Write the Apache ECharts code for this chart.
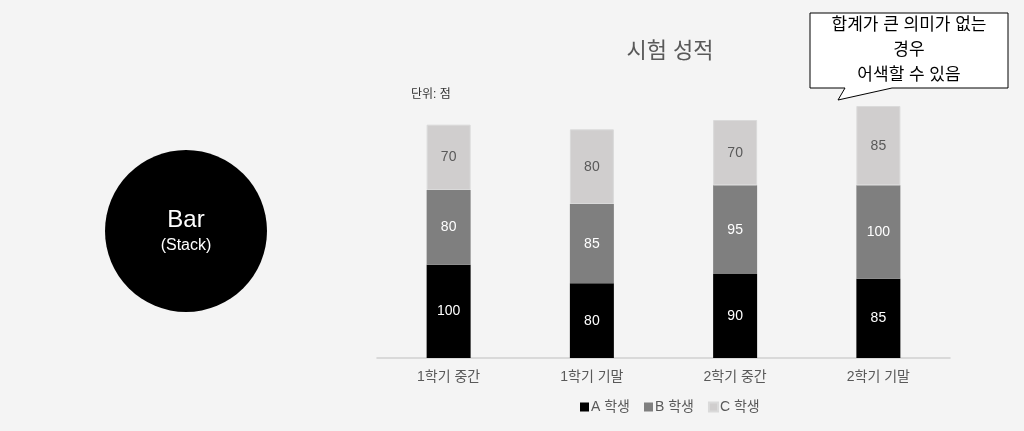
<!DOCTYPE html>
<html><head><meta charset="utf-8">
<script src="https://cdn.jsdelivr.net/npm/echarts@6/dist/echarts.min.js"></script>
<style>html,body{margin:0;padding:0;background:#f4f4f4;}#c{width:1024px;height:431px;}</style>
</head><body><div id="c"></div>
<script>
const categories = ['1학기 중간', '1학기 기말', '2학기 중간', '2학기 기말'];
const seriesNames = ['A 학생', 'B 학생', 'C 학생'];
const scoresA = [100, 80, 90, 85];
const scoresB = [80, 85, 95, 100];
const scoresC = [70, 80, 70, 85];

const font = '"Liberation Sans", "Noto Sans CJK KR", sans-serif';
const chart = echarts.init(document.getElementById('c'));
function mk(name, data, color, labelColor, border) {
  return {
    name, type: 'bar', stack: 'total', data, barWidth: 44,
    itemStyle: { color, borderColor: border || color, borderWidth: border ? 1 : 0 },
    label: { show: true, position: 'inside', color: labelColor, fontSize: 14, fontFamily: font },
    emphasis: { disabled: true }
  };
}
chart.setOption({
  backgroundColor: '#f4f4f4',
  animation: false,
  title: { text: '시험 성적', left: 665, top: 36, textAlign: 'center',
    textStyle: { color: '#595959', fontSize: 22, fontWeight: 'normal', fontFamily: font } },
  legend: { bottom: 17, left: 580, itemWidth: 9, itemHeight: 9, itemGap: 14,
    icon: 'rect', textStyle: { color: '#595959', fontSize: 14, fontFamily: font, padding: [0, 0, 0, -3] },
    data: seriesNames, selectedMode: false, padding: 0 },
  grid: { left: 377, right: 74, top: 78, bottom: 73 },
  xAxis: { type: 'category', data: categories,
    axisLine: { lineStyle: { color: '#d0d0d0', width: 1.5 } }, axisTick: { show: false },
    axisLabel: { color: '#595959', fontSize: 14, fontFamily: font, margin: 12 } },
  yAxis: { type: 'value', min: 0, max: 300, show: false, splitLine: { show: false } },
  series: [
    mk(seriesNames[0], scoresA, '#000000', '#ffffff'),
    mk(seriesNames[1], scoresB, '#7f7f7f', '#ffffff'),
    mk(seriesNames[2], scoresC, '#d0cece', '#595959', '#dadada')
  ],
  graphic: [
    { type: 'text', left: 411, top: 89, style: { text: '단위: 점', fill: '#333', font: '12px ' + font } },
    { type: 'circle', shape: { cx: 186, cy: 231, r: 81 }, style: { fill: '#000' } },
    { type: 'text', x: 186, y: 220, style: { text: 'Bar', fill: '#fff', font: '24px ' + font, textAlign: 'center', textVerticalAlign: 'middle' } },
    { type: 'text', x: 186, y: 246, style: { text: '(Stack)', fill: '#fff', font: '16px ' + font, textAlign: 'center', textVerticalAlign: 'middle' } },
    { type: 'polygon', shape: { points: [[810,13],[1008,13],[1008,88],[892,88],[838,100],[845,88],[810,88]] },
      style: { fill: '#fff', stroke: '#000', lineWidth: 1 } },
    { type: 'text', x: 909, y: 25, style: { text: '합계가 큰 의미가 없는', fill: '#000', font: '17px ' + font, textAlign: 'center', textVerticalAlign: 'middle' } },
    { type: 'text', x: 909, y: 50, style: { text: '경우', fill: '#000', font: '17px ' + font, textAlign: 'center', textVerticalAlign: 'middle' } },
    { type: 'text', x: 909, y: 75, style: { text: '어색할 수 있음', fill: '#000', font: '17px ' + font, textAlign: 'center', textVerticalAlign: 'middle' } }
  ]
});
</script></body></html>
